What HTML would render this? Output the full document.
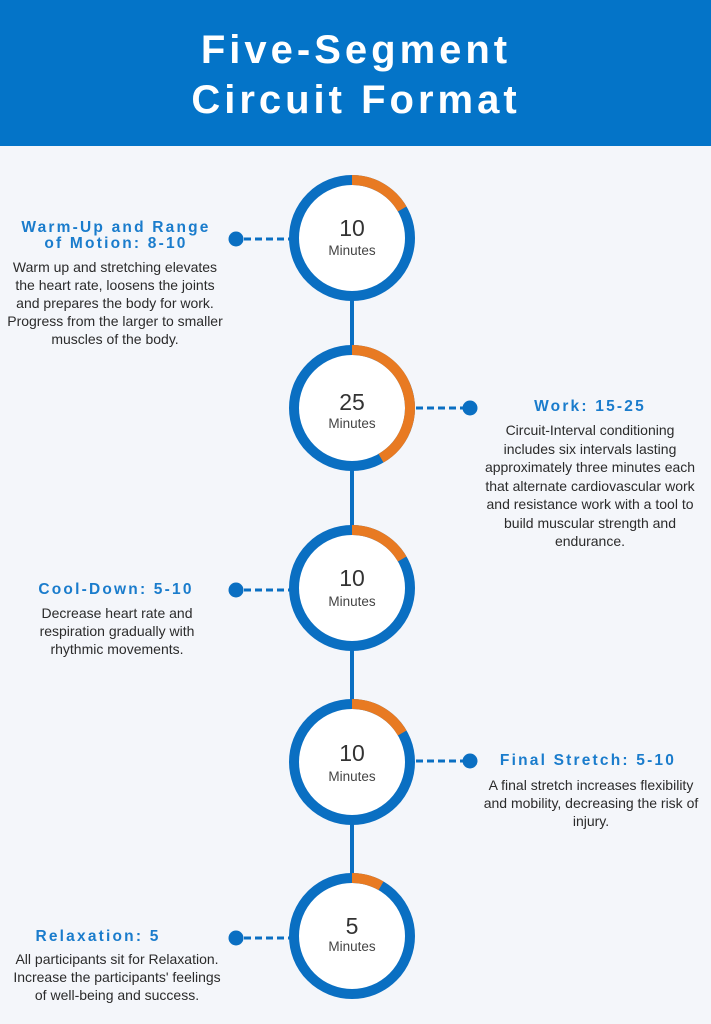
<!DOCTYPE html>
<html><head><meta charset="utf-8"><style>
html,body{margin:0;padding:0;background:#f4f6fa;}
svg{display:block}
.h{font-family:"Liberation Sans",sans-serif;font-weight:bold;fill:#1a7ccc;font-size:15.5px;letter-spacing:2.2px;text-anchor:middle}
.b{font-family:"Liberation Sans",sans-serif;fill:#2b2b2b;font-size:14px;text-anchor:middle}
.n{font-family:"Liberation Sans",sans-serif;fill:#333;font-size:23px;text-anchor:middle}
.m{font-family:"Liberation Sans",sans-serif;fill:#444;font-size:13.5px;text-anchor:middle}
</style></head><body>
<svg width="711" height="1024" viewBox="0 0 711 1024" xmlns="http://www.w3.org/2000/svg">
<rect width="711" height="1024" fill="#f4f6fa"/>
<rect width="711" height="146" fill="#0474c8"/>
<text x="356" y="63" text-anchor="middle" font-family="Liberation Sans,sans-serif" font-weight="bold" font-size="40" letter-spacing="4" fill="#fff">Five-Segment</text>
<text x="356" y="113" text-anchor="middle" font-family="Liberation Sans,sans-serif" font-weight="bold" font-size="40" letter-spacing="4" fill="#fff">Circuit Format</text>

<rect x="350" y="290" width="4" height="600" fill="#0a6fc2"/>

<g fill="#fff" stroke="#0a6fc2" stroke-width="10">
<circle cx="352" cy="238" r="58"/>
<circle cx="352" cy="408" r="58"/>
<circle cx="352" cy="588" r="58"/>
<circle cx="352" cy="762" r="58"/>
<circle cx="352" cy="936" r="58"/>
</g>
<g fill="none" stroke="#e87a22" stroke-width="10">
<path d="M352 180 A58 58 0 0 1 402.2 209"/>
<path d="M352 350 A58 58 0 0 1 381 458.2"/>
<path d="M352 530 A58 58 0 0 1 402.2 559"/>
<path d="M352 704 A58 58 0 0 1 402.2 733"/>
<path d="M352 878 A58 58 0 0 1 381 885.8"/>
</g>
<g>
<text class="n" x="352" y="236">10</text><text class="m" x="352" y="255">Minutes</text>
<text class="n" x="352" y="410">25</text><text class="m" x="352" y="428">Minutes</text>
<text class="n" x="352" y="586">10</text><text class="m" x="352" y="606">Minutes</text>
<text class="n" x="352" y="761">10</text><text class="m" x="352" y="781">Minutes</text>
<text class="n" x="352" y="934">5</text><text class="m" x="352" y="951">Minutes</text>
</g>

<g stroke="#0a6fc2" stroke-width="3" stroke-dasharray="7 4" fill="none">
<line x1="244" y1="239" x2="290" y2="239"/>
<line x1="416" y1="408" x2="463" y2="408"/>
<line x1="244" y1="590" x2="290" y2="590"/>
<line x1="416" y1="761" x2="463" y2="761"/>
<line x1="244" y1="938" x2="290" y2="938"/>
</g>
<g fill="#0a6fc2">
<circle cx="236" cy="239" r="7.5"/>
<circle cx="470" cy="408" r="7.5"/>
<circle cx="236" cy="590" r="7.5"/>
<circle cx="470" cy="761" r="7.5"/>
<circle cx="236" cy="938" r="7.5"/>
</g>

<text class="h" x="116" y="232">Warm-Up and Range</text>
<text class="h" x="116" y="248">of Motion: 8-10</text>
<text class="b" x="115" y="272">Warm up and stretching elevates</text>
<text class="b" x="115" y="290">the heart rate, loosens the joints</text>
<text class="b" x="115" y="308">and prepares the body for work.</text>
<text class="b" x="115" y="326">Progress from the larger to smaller</text>
<text class="b" x="115" y="344">muscles of the body.</text>

<text class="h" x="590" y="411">Work: 15-25</text>
<text class="b" x="590" y="435">Circuit-Interval conditioning</text>
<text class="b" x="590" y="454">includes six intervals lasting</text>
<text class="b" x="590" y="472">approximately three minutes each</text>
<text class="b" x="590" y="491">that alternate cardiovascular work</text>
<text class="b" x="590" y="509">and resistance work with a tool to</text>
<text class="b" x="590" y="528">build muscular strength and</text>
<text class="b" x="590" y="546">endurance.</text>

<text class="h" x="116" y="594">Cool-Down: 5-10</text>
<text class="b" x="117" y="618">Decrease heart rate and</text>
<text class="b" x="117" y="636">respiration gradually with</text>
<text class="b" x="117" y="654">rhythmic movements.</text>

<text class="h" x="588" y="765">Final Stretch: 5-10</text>
<text class="b" x="591" y="790">A final stretch increases flexibility</text>
<text class="b" x="591" y="808">and mobility, decreasing the risk of</text>
<text class="b" x="591" y="826">injury.</text>

<text class="h" x="98" y="941">Relaxation: 5</text>
<text class="b" x="117" y="964">All participants sit for Relaxation.</text>
<text class="b" x="117" y="982">Increase the participants' feelings</text>
<text class="b" x="117" y="1000">of well-being and success.</text>
</svg>
</body></html>
